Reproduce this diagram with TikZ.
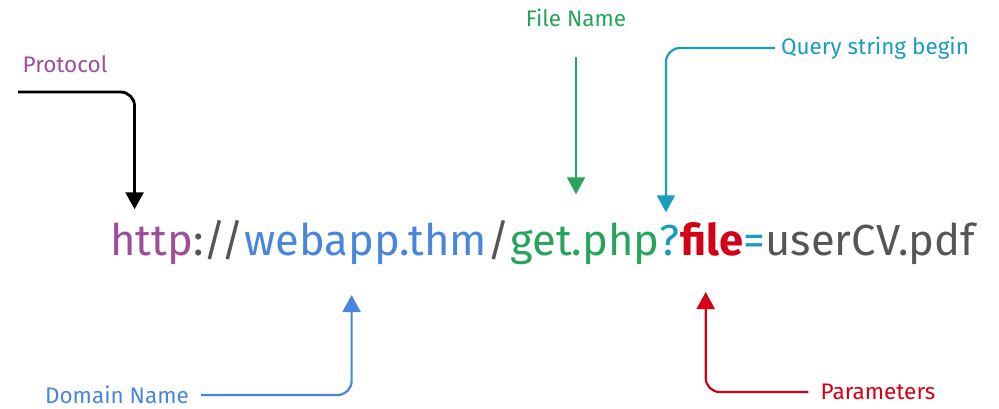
\documentclass[tikz,border=0pt]{standalone}
\usepackage{fontspec}
\setmainfont{Fira Sans}
\usepackage{tikz}
\usetikzlibrary{arrows.meta,positioning}

\definecolor{protocolc}{RGB}{158,78,152}
\definecolor{domainc}{RGB}{72,134,222}
\definecolor{filec}{RGB}{38,164,90}
\definecolor{queryc}{RGB}{26,156,192}
\definecolor{paramc}{RGB}{212,0,24}
\definecolor{sepc}{RGB}{85,85,85}

\tikzset{
  urlpart/.style={inner sep=0pt, anchor=base west, font=\fontsize{43.5}{50}\selectfont},
  lbl/.style={inner sep=2pt, font=\fontsize{22.5}{26}\selectfont},
  pointer/.style={line width=2.2pt, rounded corners=14pt, -{Triangle[length=17pt,width=18pt]}},
}

\begin{document}
\begin{tikzpicture}[x=1pt,y=-1pt]
  \useasboundingbox (0,0) rectangle (999,408);
  % the url, one node per part
  \draw (110,255)node[urlpart, text=protocolc](http){http};
  \draw (http.base east)node[urlpart, text=sepc](sep1){://};
  \draw (sep1.base east)node[urlpart, text=domainc](domain){webapp.thm};
  \draw (domain.base east)node[urlpart, text=sepc](sep2){/};
  \draw (sep2.base east)node[urlpart, text=filec](fname){get.php};
  \draw (fname.base east)node[urlpart, text=queryc](qmark){?};
  \draw (qmark.base east)node[urlpart, text=paramc, font=\fontsize{43.5}{50}\selectfont\bfseries](param){file};
  \draw (param.base east)node[urlpart, text=queryc](eq){=};
  \draw (eq.base east)node[urlpart, text=sepc](value){userCV.pdf};
  % labels
  \draw (65,64)node[lbl, text=protocolc](protocol){Protocol};
  \draw (576,18)node[lbl, text=filec](filename){File Name};
  \draw (875,48)node[lbl, text=queryc](query){Query string begin};
  \draw (117,395)node[lbl, text=domainc](domainname){Domain Name};
  \draw (878,392)node[lbl, text=paramc](params){Parameters};
  \coordinate (start) at (18,92);
  % pointers
  \draw[pointer, black, line width=2.8pt] (start) -| ([xshift=-17pt, yshift=13pt]http.north);
  \draw[pointer, filec] ([yshift=-28pt]filename.south) -- ([yshift=28pt]filename.south |- fname.north);
  \draw[pointer, queryc] ([xshift=-4pt]query.west) -| ([xshift=-4pt, yshift=12pt]qmark.north);
  \draw[pointer, domainc] ([xshift=10pt]domainname.east) -| ([xshift=-14pt, yshift=-40pt]domain.base);
  \draw[pointer, paramc] ([xshift=-10pt]params.west) -| ([xshift=-6pt, yshift=-37pt]param.base);
\end{tikzpicture}
\end{document}
